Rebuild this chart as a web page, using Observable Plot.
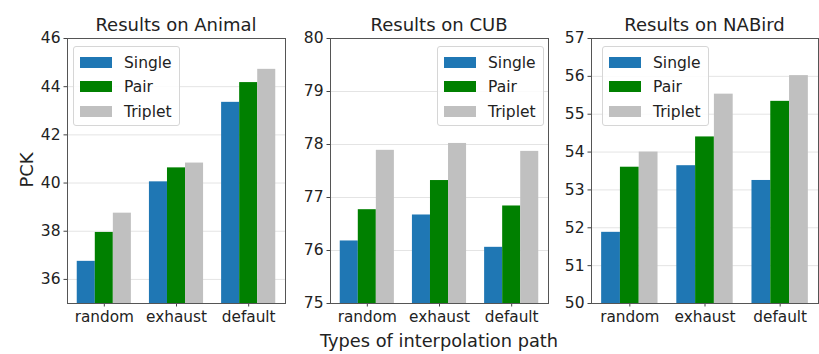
<!DOCTYPE html>
<html>
<head>
<meta charset="utf-8">
<script src="https://cdn.jsdelivr.net/npm/d3@7"></script>
<script src="https://cdn.jsdelivr.net/npm/@observablehq/plot@0.6"></script>
<style>
  html, body { margin: 0; padding: 0; background: #fff; }
  #root { position: relative; width: 819px; height: 354px; font-family: "DejaVu Sans", sans-serif; color: #222; overflow: hidden; }
  .panel { position: absolute; top: 0; }
  .title { position: absolute; font-size: 18px; white-space: nowrap; transform: translateX(-50%); }
  .xlabel { position: absolute; font-size: 17.8px; white-space: nowrap; transform: translateX(-50%); }
  .ylabel { position: absolute; font-size: 18px; white-space: nowrap; transform: translate(-50%, -50%) rotate(-90deg); }
  .legend { position: absolute; box-sizing: border-box; width: 107px; height: 80px; border: 1px solid #d6d6d6; border-radius: 3px; background: rgba(255,255,255,0.85); }
  .legend .row { position: absolute; left: 0; height: 20px; }
  .legend .sw { position: absolute; left: 6px; top: 4px; width: 32px; height: 11px; }
  .legend .lb { position: absolute; left: 50px; top: 0; font-size: 15.5px; line-height: 20px; white-space: nowrap; }
</style>
</head>
<body>
<div id="root"></div>
<script>
// ---- data ----
const categories = ["random", "exhaust", "default"];
const seriesNames = ["Single", "Pair", "Triplet"];
const seriesColors = ["#1f77b4", "#008000", "#c0c0c0"];

const animalSingle  = [36.75, 40.05, 43.35];
const animalPair    = [37.95, 40.63, 44.17];
const animalTriplet = [38.75, 40.83, 44.72];

const cubSingle  = [76.18, 76.67, 76.06];
const cubPair    = [76.77, 77.32, 76.84];
const cubTriplet = [77.89, 78.02, 77.87];

const nabirdSingle  = [51.88, 53.64, 53.25];
const nabirdPair    = [53.60, 54.40, 55.34];
const nabirdTriplet = [54.00, 55.53, 56.02];

const animalTicks = [36, 38, 40, 42, 44, 46];
const cubTicks = [75, 76, 77, 78, 79, 80];
const nabirdTicks = [50, 51, 52, 53, 54, 55, 56, 57];

const panels = [
  {title: "Results on Animal", values: [animalSingle, animalPair, animalTriplet], ticks: animalTicks, domain: [35, 46],
   left: 0, width: 290, marginLeft: 67, marginRight: 5, legendLeft: 73, ylabel: "PCK"},
  {title: "Results on CUB", values: [cubSingle, cubPair, cubTriplet], ticks: cubTicks, domain: [75, 80],
   left: 290, width: 262, marginLeft: 40, marginRight: 4, legendLeft: 437},
  {title: "Results on NABird", values: [nabirdSingle, nabirdPair, nabirdTriplet], ticks: nabirdTicks, domain: [50, 57],
   left: 550, width: 269, marginLeft: 41, marginRight: 1, legendLeft: 602}
];

const barWidth = 0.25;
const root = document.getElementById("root");
const H = 354, marginTop = 38, marginBottom = 51;

for (const p of panels) {
  const rows = [];
  p.values.forEach((vals, si) => {
    vals.forEach((v, ci) => {
      const x1 = ci + (si - 1.5) * barWidth;
      rows.push({category: categories[ci], series: seriesNames[si], x1, x2: x1 + barWidth, value: v});
    });
  });

  const chart = Plot.plot({
    width: p.width,
    height: H,
    marginTop, marginBottom,
    marginLeft: p.marginLeft,
    marginRight: p.marginRight,
    style: {fontFamily: "DejaVu Sans, sans-serif", fontSize: "15px", color: "#222", background: "transparent", overflow: "visible"},
    x: {domain: [-0.51, 2.51], axis: null},
    y: {domain: p.domain, axis: null},
    color: {domain: seriesNames, range: seriesColors},
    marks: [
      Plot.gridY(p.ticks, {stroke: "#e4e4e4", strokeOpacity: 1, strokeWidth: 1}),
      Plot.rectY(rows, {x1: "x1", x2: "x2", y1: 0, y2: "value", fill: "series", clip: true}),
      Plot.axisY({ticks: p.ticks, tickFormat: d3.format("d"), tickSize: 3.5, tickPadding: 3.5, fontSize: 15.5, label: null, stroke: "#444", fill: "#222"}),
      Plot.axisX({ticks: [0, 1, 2], tickFormat: (i) => categories[i], tickSize: 3.5, tickPadding: 4, fontSize: 15.3, label: null, stroke: "#444", fill: "#222"}),
      Plot.frame({stroke: "#555", strokeWidth: 1})
    ]
  });
  chart.classList.add("panel");
  chart.style.left = p.left + "px";
  root.appendChild(chart);

  const frameCenter = p.left + p.marginLeft + (p.width - p.marginLeft - p.marginRight) / 2;
  const t = document.createElement("div");
  t.className = "title";
  t.textContent = p.title;
  t.style.left = frameCenter + "px";
  t.style.top = "14px";
  root.appendChild(t);

  const lg = document.createElement("div");
  lg.className = "legend";
  lg.style.left = p.legendLeft + "px";
  lg.style.top = "46px";
  seriesNames.forEach((name, i) => {
    const r = document.createElement("div");
    r.className = "row";
    r.style.top = (6 + i * 24.3) + "px";
    const sw = document.createElement("div");
    sw.className = "sw";
    sw.style.background = seriesColors[i];
    const lb = document.createElement("div");
    lb.className = "lb";
    lb.textContent = name;
    r.appendChild(sw); r.appendChild(lb);
    lg.appendChild(r);
  });
  root.appendChild(lg);

  if (p.ylabel) {
    const yl = document.createElement("div");
    yl.className = "ylabel";
    yl.textContent = p.ylabel;
    yl.style.left = "26px";
    yl.style.top = "170px";
    root.appendChild(yl);
  }
}

const xl = document.createElement("div");
xl.className = "xlabel";
xl.textContent = "Types of interpolation path";
xl.style.left = (panels[1].left + panels[1].marginLeft + (panels[1].width - panels[1].marginLeft - panels[1].marginRight) / 2) + "px";
xl.style.top = "330px";
root.appendChild(xl);
</script>
</body>
</html>
